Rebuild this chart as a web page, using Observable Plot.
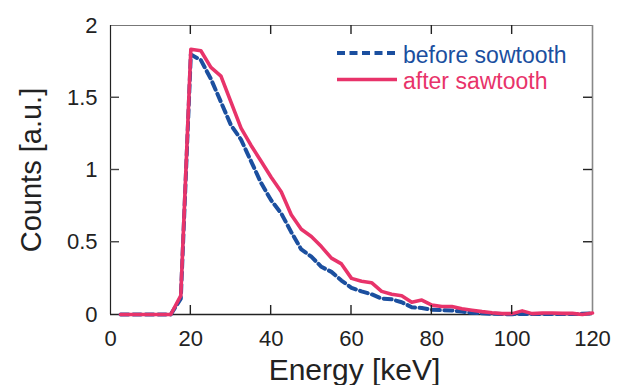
<!DOCTYPE html>
<html><head><meta charset="utf-8">
<script src="https://cdn.jsdelivr.net/npm/d3@7"></script>
<script src="https://cdn.jsdelivr.net/npm/@observablehq/plot@0.6"></script>
<style>
html,body{margin:0;padding:0;background:#fff;}
#wrap{position:relative;width:618px;height:385px;overflow:hidden;font-family:"Liberation Sans",Arial,sans-serif;}
#legend{position:absolute;left:0;top:0;pointer-events:none;}
</style></head><body>
<div id="wrap"></div>
<script>
const energy = [2.5,5,7.5,10,12.5,15,17.5,20,22.5,25,27.5,30,32.5,35,37.5,40,42.5,45,47.5,50,52.5,55,57.5,60,62.5,65,67.5,70,72.5,75,77.5,80,82.5,85,87.5,90,92.5,95,97.5,100,102.5,105,107.5,110,112.5,115,117.5,120];
const before = [0,0,0,0,0,0,0.11,1.80,1.76,1.63,1.47,1.31,1.21,1.06,0.91,0.79,0.70,0.57,0.45,0.40,0.33,0.295,0.235,0.185,0.16,0.14,0.11,0.105,0.085,0.05,0.045,0.033,0.03,0.028,0.02,0.012,0.008,0.005,0.003,0.002,0.005,0.003,0.003,0.004,0.003,0.003,0.005,0.008];
const after = [0,0,0,0,0,0,0.13,1.835,1.825,1.71,1.65,1.47,1.29,1.17,1.06,0.95,0.85,0.69,0.59,0.54,0.47,0.39,0.35,0.25,0.23,0.22,0.16,0.14,0.13,0.085,0.10,0.065,0.055,0.055,0.04,0.03,0.02,0.012,0.006,0.006,0.025,0.006,0.01,0.01,0.008,0.008,0.0,0.01];
const xTicks = [0,20,40,60,80,100,120];
const yTicks = [0,0.5,1,1.5,2];
const seriesNames = ["before sowtooth","after sawtooth"];
const seriesColors = ["#1b4f9f","#e8336a"];
const xTitle = "Energy [keV]";
const yTitle = "Counts [a.u.]";

const W = 618, H = 385, mL = 110, mR = 26, mT = 25, mB = 71;
const rows = energy.map((e,i)=>({e, before: before[i], after: after[i]}));
const innerX = xTicks.slice(1,-1);
const innerY = yTicks.slice(1,-1);
const x0 = xTicks[0], x1 = xTicks[xTicks.length-1];
const y0 = yTicks[0], y1 = yTicks[yTicks.length-1];
const tickLen = 9; // pixels

const chart = Plot.plot({
  width: W, height: H,
  marginLeft: mL, marginRight: mR, marginTop: mT, marginBottom: mB,
  style: {fontFamily: "'Liberation Sans', Arial, sans-serif", fontSize: "22px", color: "#222", background: "white", overflow: "visible"},
  x: {domain: [x0, x1]},
  y: {domain: [y0, y1]},
  marks: [
    Plot.axisX(xTicks, {tickSize: 0, tickPadding: 16, fontSize: 22, label: null}),
    Plot.axisY(yTicks, {tickSize: 0, tickPadding: 13, fontSize: 22, label: null, tickFormat: d => String(d)}),
    Plot.ruleY([y1], {stroke: "#777", strokeWidth: 1.2}),
    Plot.ruleX([x1], {stroke: "#888", strokeWidth: 1.6}),
    Plot.ruleX([x0], {stroke: "#222", strokeWidth: 1.2}),
    Plot.ruleY([y0], {stroke: "#222", strokeWidth: 1.4}),
    Plot.line(rows, {x: "e", y: "before", stroke: seriesColors[0], strokeWidth: 4, strokeDasharray: "8,4.5"}),
    Plot.line(rows, {x: "e", y: "after", stroke: seriesColors[1], strokeWidth: 3.6}),
    Plot.text([xTitle], {frameAnchor: "bottom", dx: 3, dy: 44, lineAnchor: "top", fontSize: 30, fill: "#222", text: d => d})
  ]
});
const wrap = document.getElementById("wrap");
wrap.appendChild(chart);

const sx = chart.scale("x"), sy = chart.scale("y");
const ns = "http://www.w3.org/2000/svg";
const lg = document.createElementNS(ns, "svg");
lg.setAttribute("id", "legend");
lg.setAttribute("width", W); lg.setAttribute("height", H);
function addLine(xa, ya, xb, yb, stroke, sw, dash) {
  const ln = document.createElementNS(ns, "line");
  ln.setAttribute("x1", xa); ln.setAttribute("x2", xb);
  ln.setAttribute("y1", ya); ln.setAttribute("y2", yb);
  ln.setAttribute("stroke", stroke);
  ln.setAttribute("stroke-width", sw);
  if (dash) ln.setAttribute("stroke-dasharray", dash);
  lg.appendChild(ln);
}
// inward ticks on all four sides, placed with the chart's own scales
const pxL = sx.apply(x0), pxR = sx.apply(x1), pyB = sy.apply(y0), pyT = sy.apply(y1);
innerX.forEach(v => {
  const px = sx.apply(v);
  addLine(px, pyB, px, pyB - tickLen, "#222", 1.4);
  addLine(px, pyT, px, pyT + tickLen, "#222", 1.4);
});
innerY.forEach(v => {
  const py = sy.apply(v);
  addLine(pxL, py, pxL + tickLen, py, "#444", 1.4);
  addLine(pxR, py, pxR - tickLen, py, "#222", 1.4);
});
// legend
const rowsY = [53, 79.5];
seriesNames.forEach((name, i) => {
  addLine(337, rowsY[i], 397, rowsY[i], seriesColors[i], i === 0 ? 4 : 3.6, i === 0 ? "8,4.5" : null);
  const tx = document.createElementNS(ns, "text");
  tx.setAttribute("x", 403); tx.setAttribute("y", rowsY[i] + 9.5);
  tx.setAttribute("fill", seriesColors[i]);
  tx.setAttribute("font-size", 23);
  tx.setAttribute("font-family", "'Liberation Sans', Arial, sans-serif");
  tx.textContent = name;
  lg.appendChild(tx);
});
const yt = document.createElementNS(ns, "text");
yt.setAttribute("transform", "translate(31,170) rotate(-90)");
yt.setAttribute("text-anchor", "middle");
yt.setAttribute("dominant-baseline", "central");
yt.setAttribute("fill", "#222");
yt.setAttribute("font-size", 29);
yt.setAttribute("font-family", "'Liberation Sans', Arial, sans-serif");
yt.textContent = yTitle;
lg.appendChild(yt);
wrap.appendChild(lg);
</script>
</body></html>
